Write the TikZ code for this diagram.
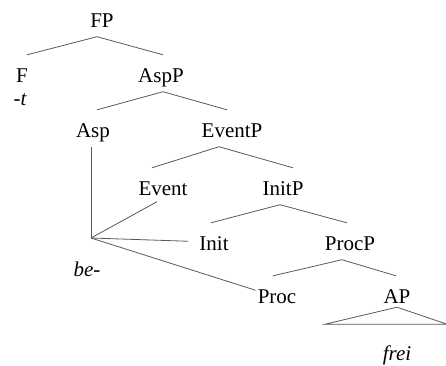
\documentclass[tikz,border=0pt]{standalone}
\usepackage{fontspec}
\setmainfont{Liberation Serif}
\usepackage{tikz}
\usetikzlibrary{positioning}
\usetikzlibrary{calc}
\tikzset{
  % Common styles for the tree
  branch/.style={draw, line width=0.8pt, black!65},
  roof/.style={draw, line width=0.8pt, black!65}
}

\begin{document}
\begin{tikzpicture}[x=1pt, y=-1pt]
    % Define styles
    \tikzstyle{cat} = [anchor=base, inner sep=0pt, text height=27pt, text depth=9.5pt, font=\fontsize{21}{25}\selectfont]
    \tikzstyle{morph} = [anchor=base, inner sep=0pt, font=\fontsize{21}{25}\selectfont\itshape]

    \useasboundingbox (0,0) rectangle (446,365);

    % Place nodes
    \node [cat] (fp) at (102,27) {FP};
    \node [cat] (f) at (22,82) {F};
    \node [morph] (t) at (20,105) {-t};
    \node [cat] (aspp) at (161,82) {AspP};
    \node [cat] (asp) at (93,137) {Asp};
    \node [cat] (eventp) at (232,137) {EventP};
    \node [cat] (event) at (163,195) {Event};
    \node [cat] (initp) at (283,195) {InitP};
    \node [cat] (init) at (214,250) {Init};
    \node [cat] (procp) at (350,250) {ProcP};
    \node [cat] (proc) at (277,303) {Proc};
    \node [cat] (ap) at (397,303) {AP};
    \node [morph] (be) at (87,276) {be-};
    \node [morph] (frei) at (397,360) {frei};
    \coordinate (v) at (91,238);

    % Draw edges
    \path [branch] ([xshift=-5pt]fp.south) -- ([xshift=5pt]f.north);
    \path [branch] ([xshift=-5pt]fp.south) -- ([xshift=2pt]aspp.north);
    \path [branch] ([xshift=2pt]aspp.south) -- ([xshift=4pt]asp.north);
    \path [branch] ([xshift=2pt]aspp.south) -- ([xshift=-5pt]eventp.north);
    \path [branch] ([xshift=-13pt]eventp.south) -- ([xshift=-11pt]event.north);
    \path [branch] ([xshift=-13pt]eventp.south) -- ([xshift=10pt]initp.north);
    \path [branch] ([xshift=-3pt]initp.south) -- ([xshift=-3pt]init.north);
    \path [branch] ([xshift=-3pt]initp.south) -- ([xshift=-3pt]procp.north);
    \path [branch] ([xshift=-8pt]procp.south) -- ([xshift=-4pt]proc.north);
    \path [branch] ([xshift=-8pt]procp.south) -- ([xshift=-1pt]ap.north);

    % Asp head spread over the lower heads
    \path [branch] ([xshift=-2pt]asp.south) -- (v);
    \path [branch] (v) -- ([xshift=-6pt,yshift=3pt]event.south);
    \path [branch] (v) -- ([xshift=-11pt]init.west);
    \path [branch] (v) -- ([xshift=-2pt,yshift=4pt]proc.west);

    % AP roof
    \path [roof] ([yshift=5.5pt]ap.south) -- ++(-72,17) -- ++(122,0) -- cycle;

\end{tikzpicture}
\end{document}
